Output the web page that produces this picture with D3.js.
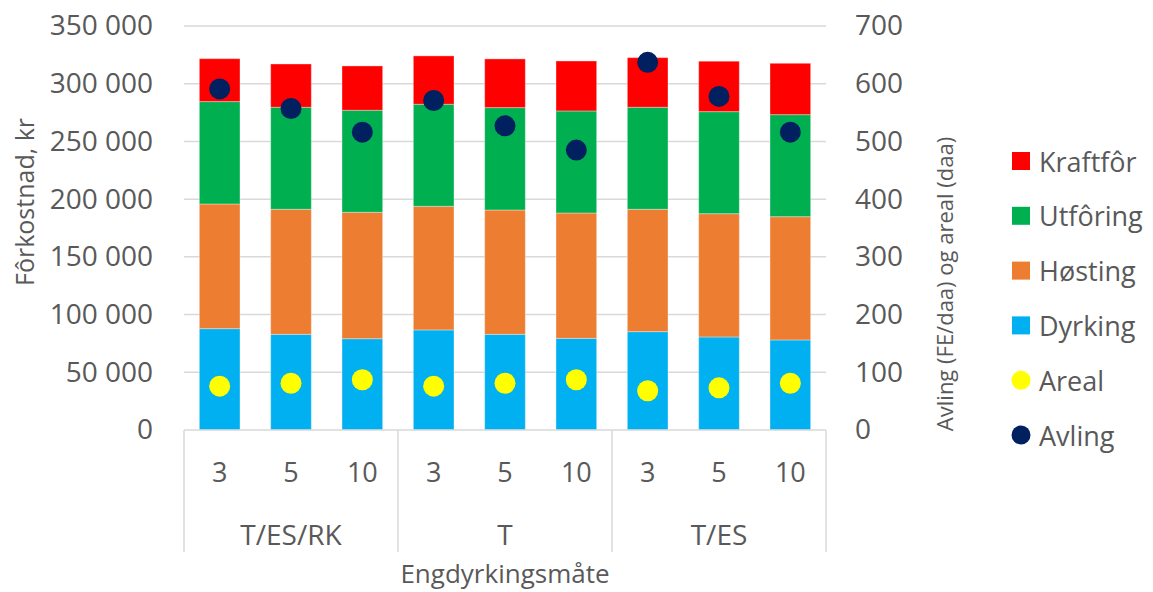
<!DOCTYPE html>
<html>
<head>
<meta charset="utf-8">
<script src="https://d3js.org/d3.v7.min.js"></script>
<style>
    body { margin: 0; background: #fff; }
    text { font-family: "Open Sans", sans-serif; fill: #595959; }
</style>
</head>
<body>
<svg id="vis"></svg>
<script>
    var width = 1153,
        height = 592;

    // data
    var groups = ["T/ES/RK", "T", "T/ES"];
    var years = ["3", "5", "10"];
    var dyrking = [87800, 82900, 79100, 86700, 82900, 79400, 85200, 80600, 78000];
    var hosting = [108000, 108300, 109500, 107100, 107700, 108600, 106000, 106800, 106800];
    var utforing = [88700, 88400, 88400, 88400, 88700, 88400, 88400, 88400, 88400];
    var kraftfor = [37200, 37500, 38400, 41900, 42200, 43300, 43000, 43700, 44500];
    var areal = [76, 81, 87, 76, 81, 87, 68, 73, 81];
    var avling = [591, 557, 516, 571, 527, 485, 637, 578, 516];

    var leftTicks = [0, 50000, 100000, 150000, 200000, 250000, 300000, 350000];
    var rightTicks = [0, 100, 200, 300, 400, 500, 600, 700];

    var seriesKeys = ["Dyrking", "Høsting", "Utfôring", "Kraftfôr"];
    var colors = {
        "Kraftfôr": "#FF0000",
        "Utfôring": "#00B050",
        "Høsting": "#ED7D31",
        "Dyrking": "#00B0F0",
        "Areal": "#FFFF00",
        "Avling": "#002060"
    };

    // build rows for the stack
    var rows = [];
    groups.forEach(function (g, gi) {
        years.forEach(function (y, yi) {
            var i = gi * years.length + yi;
            rows.push({
                key: g + "|" + y, group: g, year: y,
                "Dyrking": dyrking[i], "Høsting": hosting[i],
                "Utfôring": utforing[i], "Kraftfôr": kraftfor[i],
                areal: areal[i], avling: avling[i]
            });
        });
    });

    var plot = { left: 184, right: 826, top: 26, bottom: 430 };

    var svg = d3.select("#vis").attr("width", width).attr("height", height);

    var x = d3.scaleBand()
        .domain(rows.map(d => d.key))
        .range([plot.left, plot.right])
        .paddingInner(0.43)
        .paddingOuter(0.215);
    var y = d3.scaleLinear().domain([0, 350000]).range([plot.bottom, plot.top]);
    var y2 = d3.scaleLinear().domain([0, 700]).range([plot.bottom, plot.top]);

    var nb = d3.formatLocale({ decimal: ",", thousands: " ", grouping: [3], currency: ["", ""] });

    // gridlines
    svg.append("g")
        .selectAll("line")
        .data(leftTicks.slice(1))
        .join("line")
        .attr("x1", plot.left).attr("x2", plot.right)
        .attr("y1", d => y(d)).attr("y2", d => y(d))
        .attr("stroke", "#D9D9D9").attr("stroke-width", 1.5);

    // left axis
    var yAxis = svg.append("g")
        .attr("transform", `translate(${plot.left - 31},0)`)
        .call(d3.axisLeft(y).tickValues(leftTicks).tickFormat(nb.format(",d")).tickSize(0).tickPadding(0));
    yAxis.select(".domain").remove();
    yAxis.selectAll("text").style("font-family", "Open Sans").style("font-size", "28px").attr("fill", "#595959");

    // right axis
    var y2Axis = svg.append("g")
        .attr("transform", `translate(${plot.right + 29},0)`)
        .call(d3.axisRight(y2).tickValues(rightTicks).tickSize(0).tickPadding(0));
    y2Axis.select(".domain").remove();
    y2Axis.selectAll("text").style("font-family", "Open Sans").style("font-size", "28px").attr("fill", "#595959");

    // stacked bars
    var stack = d3.stack().keys(seriesKeys)(rows);
    svg.append("g")
        .selectAll("g")
        .data(stack)
        .join("g")
        .attr("fill", d => colors[d.key])
        .selectAll("rect")
        .data(d => d)
        .join("rect")
        .attr("x", d => x(d.data.key))
        .attr("width", x.bandwidth())
        .attr("y", d => y(d[1]))
        .attr("height", d => y(d[0]) - y(d[1]))
        .attr("stroke", "#fff").attr("stroke-opacity", 0.35).attr("stroke-width", 1);

    // category axis line and separators
    var cat = svg.append("g").attr("stroke", "#D9D9D9").attr("stroke-width", 1.5);
    cat.append("line")
        .attr("x1", plot.left).attr("x2", plot.right)
        .attr("y1", plot.bottom).attr("y2", plot.bottom);
    var groupWidth = (plot.right - plot.left) / groups.length;
    cat.selectAll(".sep")
        .data(d3.range(groups.length + 1))
        .join("line")
        .attr("class", "sep")
        .attr("x1", i => plot.left + i * groupWidth).attr("x2", i => plot.left + i * groupWidth)
        .attr("y1", plot.bottom).attr("y2", 552);

    // sub labels (years)
    svg.append("g")
        .selectAll("text")
        .data(rows)
        .join("text")
        .attr("x", d => x(d.key) + x.bandwidth() / 2)
        .attr("y", 471)
        .attr("text-anchor", "middle")
        .attr("dominant-baseline", "central")
        .style("font-size", "27px")
        .text(d => d.year);

    // group labels
    svg.append("g")
        .selectAll("text")
        .data(groups)
        .join("text")
        .attr("x", (d, i) => plot.left + (i + 0.5) * groupWidth)
        .attr("y", 534)
        .attr("text-anchor", "middle")
        .attr("dominant-baseline", "central")
        .style("font-size", "28px")
        .text(d => d);

    // points
    svg.append("g")
        .selectAll("circle")
        .data(rows)
        .join("circle")
        .attr("cx", d => x(d.key) + x.bandwidth() / 2)
        .attr("cy", d => y2(d.areal))
        .attr("r", 10.5)
        .attr("fill", colors["Areal"]);
    svg.append("g")
        .selectAll("circle")
        .data(rows)
        .join("circle")
        .attr("cx", d => x(d.key) + x.bandwidth() / 2)
        .attr("cy", d => y2(d.avling))
        .attr("r", 10.5)
        .attr("fill", colors["Avling"]);

    // axis titles
    svg.append("text")
        .attr("transform", "translate(24,202) rotate(-90)")
        .attr("text-anchor", "middle")
        .attr("dominant-baseline", "central")
        .style("font-size", "25px")
        .text("Fôrkostnad, kr");

    svg.append("text")
        .attr("transform", "translate(944,284) rotate(-90)")
        .attr("text-anchor", "middle")
        .attr("dominant-baseline", "central")
        .style("font-size", "22px")
        .text("Avling (FE/daa) og areal (daa)");

    svg.append("text")
        .attr("x", (plot.left + plot.right) / 2)
        .attr("y", 573)
        .attr("text-anchor", "middle")
        .attr("dominant-baseline", "central")
        .style("font-size", "26px")
        .text("Engdyrkingsmåte");

    // legend
    var legendItems = [
        { label: "Kraftfôr", shape: "rect" },
        { label: "Utfôring", shape: "rect" },
        { label: "Høsting", shape: "rect" },
        { label: "Dyrking", shape: "rect" },
        { label: "Areal", shape: "circle" },
        { label: "Avling", shape: "circle" }
    ];
    var legend = svg.append("g");
    legendItems.forEach(function (d, i) {
        var cy = 161 + i * 54.8;
        if (d.shape === "rect") {
            legend.append("rect")
                .attr("x", 1012).attr("y", cy - 9)
                .attr("width", 18).attr("height", 18)
                .attr("fill", colors[d.label]);
        } else {
            legend.append("circle")
                .attr("cx", 1021).attr("cy", cy)
                .attr("r", 9.5)
                .attr("fill", colors[d.label]);
        }
        legend.append("text")
            .attr("x", 1039).attr("y", cy)
            .attr("dominant-baseline", "central")
            .style("font-size", "27px")
            .text(d.label);
    });
</script>
</body>
</html>
